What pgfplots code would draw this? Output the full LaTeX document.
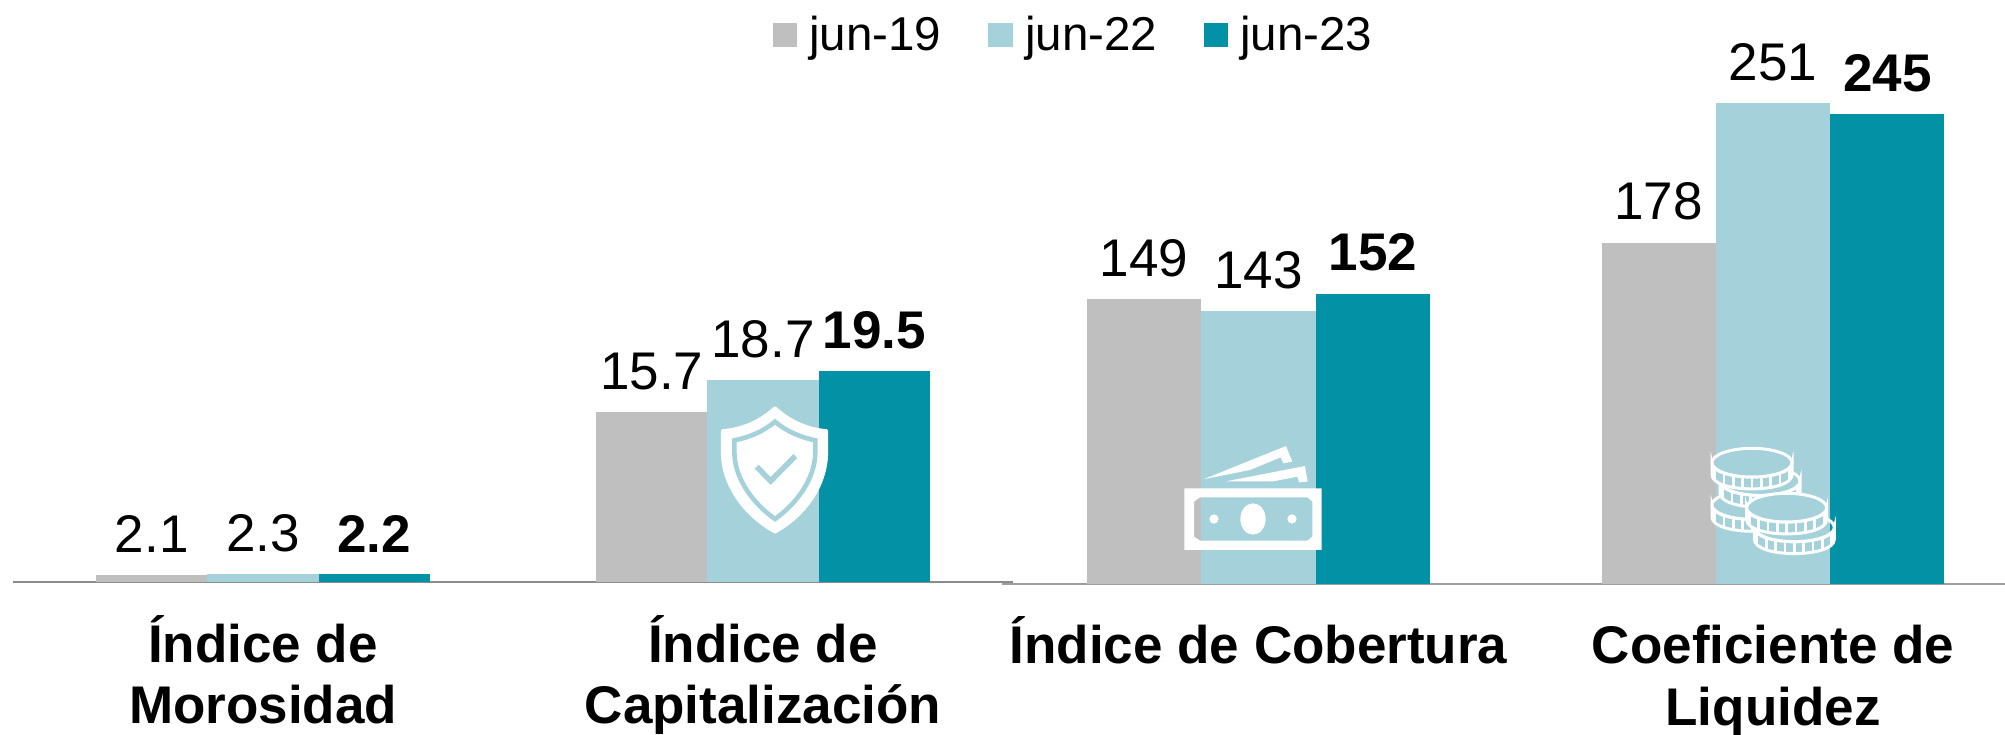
\documentclass[border=0pt]{standalone}
\usepackage{fontspec}
\setmainfont{Liberation Sans}
\usepackage{pgfplots}
\pgfplotsset{compat=1.18}
\definecolor{cGris}{HTML}{BFBFBF}
\definecolor{cClaro}{HTML}{A4D1DA}
\definecolor{cTeal}{HTML}{0291A5}
\definecolor{cLinea}{HTML}{8C8C8C}

\newcommand{\etiq}{\fontsize{53}{60}\selectfont}
\newcommand{\titulo}{\fontsize{53}{61.5}\selectfont\bfseries}
\newcommand{\pri}{\rule{0pt}{52pt}}

\pgfplotsset{
  panel/.style={
    scale only axis,height=500pt,anchor=south west,ymin=0,
    axis x line*=bottom,axis y line=none,ytick=\empty,
    axis line style={draw=cLinea,line width=1.6pt,-},
    xtick={0},major tick length=0pt,tick style={draw=none},
    xticklabel style={font=\titulo,align=center,anchor=north,inner sep=0pt,yshift=-28pt},
    clip=false,
    nodes near coords,
    every node near coord/.style={font=\etiq,inner sep=0pt,anchor=south,yshift=22pt,black},
    ybar=0pt,
    /pgf/number format/assume math mode=true,
    /pgf/number format/fixed,/pgf/number format/fixed zerofill,
  },
  bar19/.style={draw=none,fill=cGris,
    legend image code/.code={\fill[cGris] (0pt,3pt) rectangle (24pt,27pt);}},
  bar22/.style={draw=none,fill=cClaro,
    legend image code/.code={\fill[cClaro] (0pt,3pt) rectangle (25pt,27pt);}},
  bar23/.style={draw=none,fill=cTeal,
    every node near coord/.append style={font=\etiq\bfseries},
    legend image code/.code={\fill[cTeal] (0pt,3pt) rectangle (24pt,27pt);}},
}

\newcommand{\moneda}[3]{% cx cy relleno
  \filldraw[fill=#3,draw=white,line width=3pt]
    ({#1-120},{#2}) -- ({#1-120},{#2+36})
    .. controls ({#1-120},{#2+36+57}) and ({#1+120},{#2+36+57}) .. ({#1+120},{#2+36})
    -- ({#1+120},{#2}) .. controls ({#1+120},{#2+57}) and ({#1-120},{#2+57}) .. cycle;
  \filldraw[fill=#3,draw=white,line width=3pt] (#1,#2) ellipse [x radius=120,y radius=43];
  \foreach \k in {-4,...,4}
    \draw[white,line width=2.4pt] ({#1+\k*28},{#2+43*sqrt(1-(\k*28/120)^2)}) -- ++(0,36);
}
\newcommand{\monedas}[1]{%
  \moneda{216}{255}{#1}
  \moneda{240}{183}{#1}
  \moneda{216}{128}{#1}
  \moneda{343}{322}{#1}
  \moneda{320}{263}{#1}
}

\begin{document}
\begin{tikzpicture}
  \path[use as bounding box] (0pt,0pt) rectangle (2005pt,734pt);

  % Indice de Morosidad
  \begin{axis}[panel,at={(13pt,152pt)},width=500pt,xmin=-250,xmax=250,ymax=142.86,
      bar width=111.3pt,/pgf/number format/precision=1,
      xticklabels={{\pri Índice de\\Morosidad}}]
    \addplot[bar19] coordinates {(0,2.1)};
    \addplot[bar22] coordinates {(0,2.3)};
    \addplot[bar23] coordinates {(0,2.2)};
  \end{axis}

  % Indice de Capitalizacion (la leyenda va aqui)
  \begin{axis}[panel,at={(513pt,152pt)},width=500pt,xmin=-250,xmax=250,ymax=46.3,
      bar width=111.3pt,/pgf/number format/precision=1,
      xticklabels={{\pri Índice de\\Capitalización}},
      legend columns=3,
      legend style={at={(0.52,1.096)},anchor=west,draw=none,fill=none,inner sep=0pt,
        font=\fontsize{47.5}{54}\selectfont,
        nodes={inner sep=0pt,anchor=base west},
        /tikz/every odd column/.append style={column sep=12pt},
        /tikz/every even column/.append style={column sep=47pt}},
      legend cell align=left]
    \addplot[bar19] coordinates {(0,15.7)};
    \addplot[bar22] coordinates {(0,18.7)};
    \addplot[bar23] coordinates {(0,19.5)};
    \legend{jun-19,jun-22,jun-23}
  \end{axis}

  % Indice de Cobertura
  \begin{axis}[panel,at={(1002pt,150.3pt)},width=513pt,xmin=-256.5,xmax=256.5,ymax=262.05,
      axis line style={draw=cLinea!85,line width=2pt,-},
      bar width=114.3pt,/pgf/number format/precision=0,
      xticklabels={{\pri Índice de Cobertura}}]
    \addplot[bar19] coordinates {(0,149)};
    \addplot[bar22] coordinates {(0,143)};
    \addplot[bar23] coordinates {(0,152)};
  \end{axis}

  % Coeficiente de Liquidez
  \begin{axis}[panel,at={(1515pt,150.3pt)},width=490pt,xmin=-258,xmax=232,ymax=260.96,
      axis line style={draw=cLinea!85,line width=2pt,-},
      bar width=114.3pt,/pgf/number format/precision=0,
      xticklabels={{\pri Coeficiente de\\Liquidez}}]
    \addplot[bar19] coordinates {(0,178)};
    \addplot[bar22] coordinates {(0,251)};
    \addplot[bar23] coordinates {(0,245)};
  \end{axis}

  % escudo
  \begin{scope}[shift={(680pt,354pt)},x=0.3333pt,y=-0.3333pt]
    \filldraw[white,line width=3pt,line join=round]
      (285,83) .. controls (330,125) and (385,148) .. (440,152) -- (440,215)
      .. controls (440,320) and (370,410) .. (285,456)
      .. controls (200,410) and (127,320) .. (127,215) -- (127,152)
      .. controls (185,148) and (240,125) .. cycle;
    \draw[cClaro,line width=4.6pt,line join=miter]
      (285,125) .. controls (320,155) and (365,173) .. (406,181) -- (406,215)
      .. controls (406,300) and (345,375) .. (285,417)
      .. controls (225,375) and (163,300) .. (163,215) -- (163,181)
      .. controls (205,173) and (250,155) .. cycle;
    \draw[cClaro,line width=5.5pt] (230,260) -- (272,303) -- (346,228);
  \end{scope}

  % billetes
  \begin{scope}[shift={(1150pt,314pt)},x=0.3333pt,y=-0.3333pt]
    \fill[white,even odd rule]
      (103,205) rectangle (515,390)
      (150,232) -- (472,232) -- (487,245) -- (487,350) -- (472,362) -- (150,362) -- (132,350) -- (132,245) -- cycle
      (309,297) ellipse [x radius=38,y radius=47]
      (192,297) circle [radius=14]
      (426,297) circle [radius=14];
    \fill[white] (160,178) -- (408,78) -- (427,125) -- (400,130) -- (392,112) -- (300,150) -- cycle;
    \fill[white] (228,184) -- (465,138) -- (473,185) -- (447,187) -- (442,170) -- (370,184) -- cycle;
  \end{scope}

  % monedas: relleno distinto segun la barra que queda detras
  \begin{scope}[shift={(1680pt,314pt)},x=0.3333pt,y=-0.3333pt]
    \begin{scope}
      \clip (0,0) rectangle (105,500);
      \monedas{cGris}
    \end{scope}
    \begin{scope}
      \clip (105,0) rectangle (450,500);
      \monedas{cClaro}
    \end{scope}
    \begin{scope}
      \clip (450,0) rectangle (600,500);
      \monedas{cTeal}
    \end{scope}
  \end{scope}
\end{tikzpicture}
\end{document}
